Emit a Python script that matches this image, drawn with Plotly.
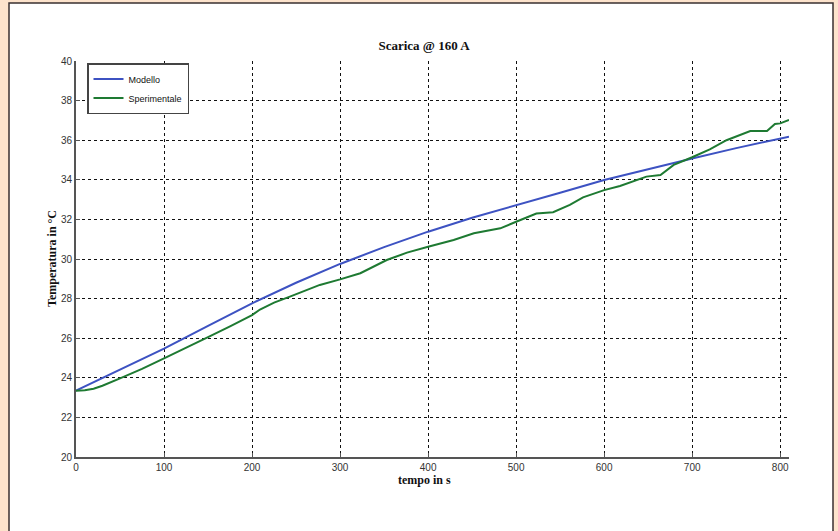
import plotly.graph_objects as go

# Data
modello_t = [0, 50, 100, 150, 200, 250, 300, 350, 400, 450, 500, 550, 600, 650, 700, 750, 800, 810]
modello_T = [23.35, 24.42, 25.47, 26.62, 27.76, 28.80, 29.75, 30.60, 31.38, 32.08, 32.73, 33.35, 33.99, 34.55, 35.08, 35.60, 36.10, 36.18]

sper_t = [0, 10, 20, 30, 50, 75, 100, 125, 150, 175, 200, 209, 225, 243, 258, 277, 300, 323, 353,
          376, 400, 429, 452, 482, 500, 523, 542, 561, 576, 600, 618, 648, 664, 679, 700, 720, 739,
          766, 785, 794, 800, 810]
sper_T = [23.35, 23.37, 23.45, 23.60, 23.97, 24.45, 24.98, 25.50, 26.05, 26.60, 27.17, 27.45, 27.80,
          28.10, 28.35, 28.69, 28.97, 29.28, 29.95, 30.32, 30.62, 30.96, 31.30, 31.55, 31.88, 32.30,
          32.36, 32.73, 33.11, 33.48, 33.69, 34.16, 34.24, 34.75, 35.14, 35.54, 36.00, 36.46, 36.46,
          36.82, 36.85, 37.02]

x_ticks = [0, 100, 200, 300, 400, 500, 600, 700, 800]
y_ticks = [20, 22, 24, 26, 28, 30, 32, 34, 36, 38, 40]

PEACH = "#fde3cc"

fig = go.Figure()
fig.add_trace(go.Scatter(x=modello_t, y=modello_T, mode="lines", name="Modello",
                         line=dict(color="#3d52c2", width=2)))
fig.add_trace(go.Scatter(x=sper_t, y=sper_T, mode="lines", name="Sperimentale",
                         line=dict(color="#1e7a32", width=2)))

# plot area px: x 76..789, y 61..457
L, R, T, B = 76, 838 - 789, 61, 531 - 457
pw, ph = 789 - 76, 457 - 61

def px2paper_x(px):
    return (px - L) / pw

def px2paper_y(py):
    return (457 - py) / ph

fig.add_shape(type="rect", xref="paper", yref="paper",
              x0=px2paper_x(9), x1=px2paper_x(833), y0=px2paper_y(545), y1=px2paper_y(3),
              fillcolor="white", line=dict(color="#3a3030", width=1.5), layer="below")

axis_font = dict(family="Liberation Sans, Arial", size=10, color="#333333")
fig.update_layout(
    width=838, height=531,
    margin=dict(l=L, r=R, t=T, b=B),
    paper_bgcolor=PEACH,
    plot_bgcolor="white",
    showlegend=True,
    title=dict(text="<b>Scarica @ 160 A</b>", x=px2paper_x(424), xref="paper", xanchor="center",
               y=1 - 45 / 531, yanchor="middle",
               font=dict(family="Liberation Serif, Times New Roman", size=13, color="#111111")),
    legend=dict(x=px2paper_x(87), y=px2paper_y(63), xanchor="left", yanchor="top",
                bgcolor="white", bordercolor="#444444", borderwidth=1.5,
                font=dict(family="Liberation Sans, Arial", size=9, color="#111111"),
                tracegroupgap=0, itemwidth=30),
    xaxis=dict(range=[0, 810], tickvals=x_ticks, ticktext=[str(v) for v in x_ticks],
               showgrid=True, gridcolor="#111111", griddash="dot", gridwidth=1,
               showline=True, linecolor="#555555", linewidth=2,
               ticks="inside", ticklen=4, tickcolor="#555555",
               tickfont=axis_font, zeroline=False),
    yaxis=dict(range=[20, 40], tickvals=y_ticks, ticktext=[str(v) for v in y_ticks],
               showgrid=True, gridcolor="#111111", griddash="dot", gridwidth=1,
               showline=True, linecolor="#555555", linewidth=2,
               ticks="inside", ticklen=4, tickcolor="#555555",
               tickfont=axis_font, zeroline=False),
    annotations=[
        dict(text="<b>tempo in s</b>", xref="paper", yref="paper",
             x=px2paper_x(424), y=px2paper_y(479.5), xanchor="center", yanchor="middle",
             showarrow=False,
             font=dict(family="Liberation Serif, Times New Roman", size=12, color="#111111")),
        dict(text="<b>Temperatura in °C</b>", xref="paper", yref="paper",
             x=px2paper_x(52), y=px2paper_y(259), xanchor="center", yanchor="middle",
             textangle=-90, showarrow=False,
             font=dict(family="Liberation Serif, Times New Roman", size=12, color="#111111")),
    ],
)

fig.write_html("out.html",
               config={"displayModeBar": False},
               post_script="document.body.style.margin='0px';"
                           "document.body.style.background='" + PEACH + "';")
